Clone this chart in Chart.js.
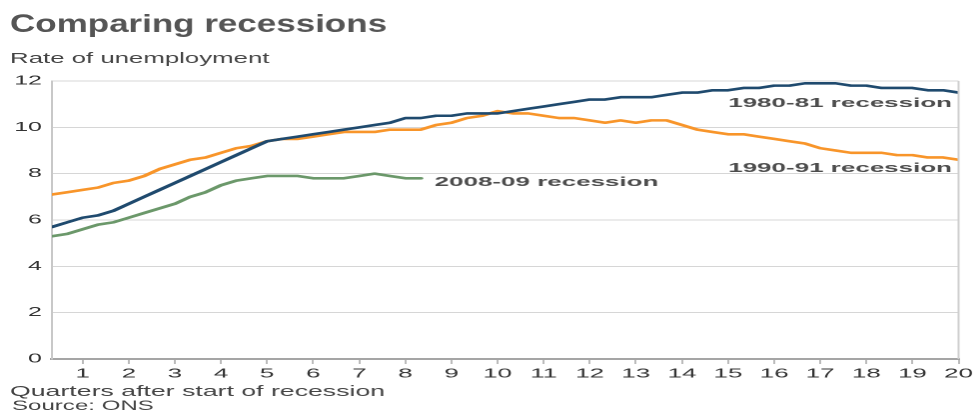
<!DOCTYPE html>
<html>
<head>
<meta charset="utf-8">
<script src="https://cdn.jsdelivr.net/npm/chart.js@4/dist/chart.umd.min.js"></script>
<style>
  html, body { margin: 0; padding: 0; background: #fff; overflow: hidden; }
  #wrap { position: absolute; left: 0; top: 0; transform: scaleX(1.998); transform-origin: 0 0; }
</style>
</head>
<body>
<div id="wrap"><canvas id="chart" width="488" height="411"></canvas></div>
<script>
// monthly unemployment rate (%) after the start of each recession
const rate1980 = [
  5.7, 5.9, 6.1, 6.2, 6.4, 6.7, 7.0, 7.3, 7.6, 7.9,
  8.2, 8.5, 8.8, 9.1, 9.4, 9.5, 9.6, 9.7, 9.8, 9.9,
  10.0, 10.1, 10.2, 10.4, 10.4, 10.5, 10.5, 10.6, 10.6, 10.6,
  10.7, 10.8, 10.9, 11.0, 11.1, 11.2, 11.2, 11.3, 11.3, 11.3,
  11.4, 11.5, 11.5, 11.6, 11.6, 11.7, 11.7, 11.8, 11.8, 11.9,
  11.9, 11.9, 11.8, 11.8, 11.7, 11.7, 11.7, 11.6, 11.6, 11.5
];
const rate1990 = [
  7.1, 7.2, 7.3, 7.4, 7.6, 7.7, 7.9, 8.2, 8.4, 8.6,
  8.7, 8.9, 9.1, 9.2, 9.4, 9.5, 9.5, 9.6, 9.7, 9.8,
  9.8, 9.8, 9.9, 9.9, 9.9, 10.1, 10.2, 10.4, 10.5, 10.7,
  10.6, 10.6, 10.5, 10.4, 10.4, 10.3, 10.2, 10.3, 10.2, 10.3,
  10.3, 10.1, 9.9, 9.8, 9.7, 9.7, 9.6, 9.5, 9.4, 9.3,
  9.1, 9.0, 8.9, 8.9, 8.9, 8.8, 8.8, 8.7, 8.7, 8.6
];
const rate2008 = [
  5.3, 5.4, 5.6, 5.8, 5.9, 6.1, 6.3, 6.5, 6.7, 7.0,
  7.2, 7.5, 7.7, 7.8, 7.9, 7.9, 7.9, 7.8, 7.8, 7.8,
  7.9, 8.0, 7.9, 7.8, 7.8
];
const quarterTicks = [1, 2, 3, 4, 5, 6, 7, 8, 9, 10, 11, 12, 13, 14, 15, 16, 17, 18, 19, 20];
const rateTicks = [0, 2, 4, 6, 8, 10, 12];

const FONT = 'Liberation Sans, Arial, Helvetica, sans-serif';

// month n sits at n/3 quarters
function toPoints(values) {
  return values.map((v, i) => ({ x: (i + 1) / 3, y: v }));
}

// text is drawn on a canvas that is stretched 2x wide, so each piece gets its own squeeze
function stretchedText(ctx, text, x, y, font, color, sx, align) {
  ctx.save();
  ctx.translate(x, y);
  ctx.scale(sx, 1);
  ctx.font = font;
  ctx.fillStyle = color;
  ctx.textAlign = align || 'left';
  ctx.textBaseline = 'alphabetic';
  ctx.fillText(text, 0, 0);
  ctx.restore();
}

const labelsPlugin = {
  id: 'labels',
  afterDraw(chart) {
    const ctx = chart.ctx;
    const area = chart.chartArea;

    // right frame line
    ctx.save();
    ctx.strokeStyle = '#cfcfcf';
    ctx.lineWidth = 1;
    ctx.beginPath();
    ctx.moveTo(area.right, area.top);
    ctx.lineTo(area.right, area.bottom);
    ctx.stroke();
    ctx.restore();

    stretchedText(ctx, 'Comparing recessions', 5, 32, 'bold 25px ' + FONT, '#555', 0.70);
    stretchedText(ctx, 'Rate of unemployment', 5, 63, '14.5px ' + FONT, '#444', 0.89);
    stretchedText(ctx, 'Quarters after start of recession', 5, 396, '15px ' + FONT, '#444', 0.89);
    stretchedText(ctx, 'Source: ONS', 6, 410, '14px ' + FONT, '#444', 0.86);

    const lf = 'bold 13px ' + FONT;
    stretchedText(ctx, '1980-81 recession', 476.5, 107, lf, '#4d4d4d', 1, 'right');
    stretchedText(ctx, '1990-91 recession', 476.5, 172, lf, '#4d4d4d', 1, 'right');
    stretchedText(ctx, '2008-09 recession', 217.5, 186, lf, '#4d4d4d', 1, 'left');
  }
};

new Chart(document.getElementById('chart'), {
  type: 'line',
  data: {
    datasets: [
      { label: '1980-81 recession', data: toPoints(rate1980), borderColor: '#1f4a6e' },
      { label: '1990-91 recession', data: toPoints(rate1990), borderColor: '#f8952a' },
      { label: '2008-09 recession', data: toPoints(rate2008), borderColor: '#6b986a' }
    ]
  },
  options: {
    responsive: false,
    devicePixelRatio: 2,
    animation: false,
    layout: { padding: { left: 0, right: 8.25, top: 81, bottom: 30 } },
    elements: {
      line: { borderWidth: 2.6, tension: 0, borderCapStyle: 'round', borderJoinStyle: 'round' },
      point: { radius: 0 }
    },
    plugins: { legend: { display: false }, tooltip: { enabled: false } },
    scales: {
      x: {
        type: 'linear',
        min: 1 / 3,
        max: 20,
        afterBuildTicks: s => { s.ticks = quarterTicks.map(v => ({ value: v })); },
        afterFit: s => { s.height = 22; s.paddingLeft = 0; s.paddingRight = 0; },
        grid: { drawOnChartArea: false, drawTicks: true, tickLength: 5, color: '#bbb' },
        border: { color: '#a5a5a5', width: 2 },
        ticks: { color: '#333', padding: 2, maxRotation: 0, autoSkip: false, font: { family: FONT, size: 13 } }
      },
      y: {
        min: 0,
        max: 12,
        afterBuildTicks: s => { s.ticks = rateTicks.map(v => ({ value: v })); },
        afterFit: s => { s.width = 26; s.paddingTop = 0; s.paddingBottom = 0; },
        grid: { color: '#d6d6d6', drawTicks: false },
        border: { color: '#c8c8c8', width: 1 },
        ticks: { color: '#333', padding: 5, font: { family: FONT, size: 12.5 } }
      }
    }
  },
  plugins: [labelsPlugin]
});
</script>
</body>
</html>
